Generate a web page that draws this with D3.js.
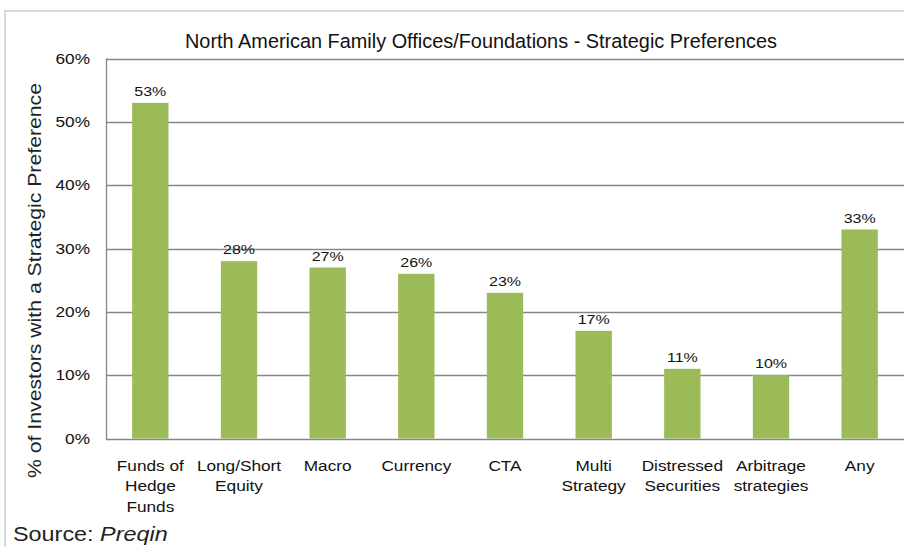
<!DOCTYPE html>
<html>
<head>
<meta charset="utf-8">
<script src="https://cdn.jsdelivr.net/npm/d3@7"></script>
<style>
  body { margin: 0; background: #fff; }
  svg { font-family: "Liberation Sans", Arial, sans-serif; }
</style>
</head>
<body>
<div id="chart"></div>
<script>
const categories = [
  ['Funds of', 'Hedge', 'Funds'],
  ['Long/Short', 'Equity'],
  ['Macro'],
  ['Currency'],
  ['CTA'],
  ['Multi', 'Strategy'],
  ['Distressed', 'Securities'],
  ['Arbitrage', 'strategies'],
  ['Any']
];
const values = [53, 28, 27, 26, 23, 17, 11, 10, 33];
const yTicks = [0, 10, 20, 30, 40, 50, 60];

const width = 904;
const height = 547;
const margin = {top: 58.5, right: 0, bottom: 108.5, left: 106};

// the source picture is stretched sideways, so text gets a horizontal scale
const stretch = 1.23;

const svg = d3.select('#chart')
  .append('svg')
    .attr('width', width)
    .attr('height', height);

// outer frame
svg.append('path')
    .attr('d', 'M5,' + height + 'V11H' + width)
    .attr('fill', 'none')
    .attr('stroke', '#d9d9d9')
    .attr('stroke-width', 2);

const x = d3.scaleBand()
    .domain(d3.range(categories.length))
    .range([margin.left, width - margin.right])
    .paddingInner(0.59)
    .paddingOuter(0.295);

const y = d3.scaleLinear()
    .domain([0, 60])
    .range([height - margin.bottom, margin.top]);

// gridlines
svg.append('g')
  .selectAll('line')
  .data(yTicks)
  .enter()
  .append('line')
    .attr('x1', margin.left)
    .attr('x2', width)
    .attr('y1', function(d) { return Math.round(y(d)) + 0.5; })
    .attr('y2', function(d) { return Math.round(y(d)) + 0.5; })
    .attr('stroke', '#868686')
    .attr('stroke-width', 1.3);

// left axis line
svg.append('line')
    .attr('x1', margin.left + 0.5)
    .attr('x2', margin.left + 0.5)
    .attr('y1', y(60))
    .attr('y2', y(0) + 1)
    .attr('stroke', '#868686')
    .attr('stroke-width', 1.3);

// y tick labels
svg.append('g')
  .selectAll('text')
  .data(yTicks)
  .enter()
  .append('text')
    .attr('transform', function(d) {
      return 'translate(90,' + y(d) + ') scale(' + stretch + ',1)';
    })
    .attr('dy', '0.36em')
    .attr('text-anchor', 'end')
    .attr('font-size', 14)
    .attr('fill', '#111')
    .text(function(d) { return d + '%'; });

// bars
svg.append('g')
  .selectAll('rect')
  .data(values)
  .enter()
  .append('rect')
    .attr('x', function(d, i) { return x(i); })
    .attr('y', function(d) { return y(d); })
    .attr('width', x.bandwidth())
    .attr('height', function(d) { return y(0) - y(d); })
    .attr('fill', '#9bbb59');

// value labels
svg.append('g')
  .selectAll('text')
  .data(values)
  .enter()
  .append('text')
    .attr('transform', function(d, i) {
      return 'translate(' + (x(i) + x.bandwidth() / 2) + ',' + (y(d) - 7) +
        ') scale(' + stretch + ',1)';
    })
    .attr('text-anchor', 'middle')
    .attr('font-size', 13)
    .attr('fill', '#111')
    .text(function(d) { return d + '%'; });

// category labels
const catGroup = svg.append('g');
categories.forEach(function(lines, i) {
  let t = catGroup.append('text')
      .attr('transform', 'translate(' + (x(i) + x.bandwidth() / 2) + ',470.5) scale(' +
        stretch + ',1)')
      .attr('text-anchor', 'middle')
      .attr('font-size', 14)
      .attr('fill', '#111');
  lines.forEach(function(line, j) {
    t.append('tspan')
        .attr('x', 0)
        .attr('dy', j == 0 ? 0 : 20.7)
        .text(line);
  });
});

// title
svg.append('text')
    .attr('x', 185)
    .attr('y', 48)
    .attr('font-size', 20.5)
    .attr('fill', '#111')
    .attr('textLength', 592)
    .attr('lengthAdjust', 'spacingAndGlyphs')
    .text('North American Family Offices/Foundations - Strategic Preferences');

// y axis title
svg.append('text')
    .attr('transform', 'translate(41,478) rotate(-90)')
    .attr('font-size', 18.5)
    .attr('fill', '#222')
    .attr('textLength', 395)
    .attr('lengthAdjust', 'spacingAndGlyphs')
    .text('% of Investors with a Strategic Preference');

// source
let source = svg.append('text')
    .attr('transform', 'translate(13,541) scale(1.2,1)')
    .attr('font-size', 19.5)
    .attr('fill', '#222');
source.append('tspan').text('Source: ');
source.append('tspan').attr('font-style', 'italic').text('Preqin');
</script>
</body>
</html>
